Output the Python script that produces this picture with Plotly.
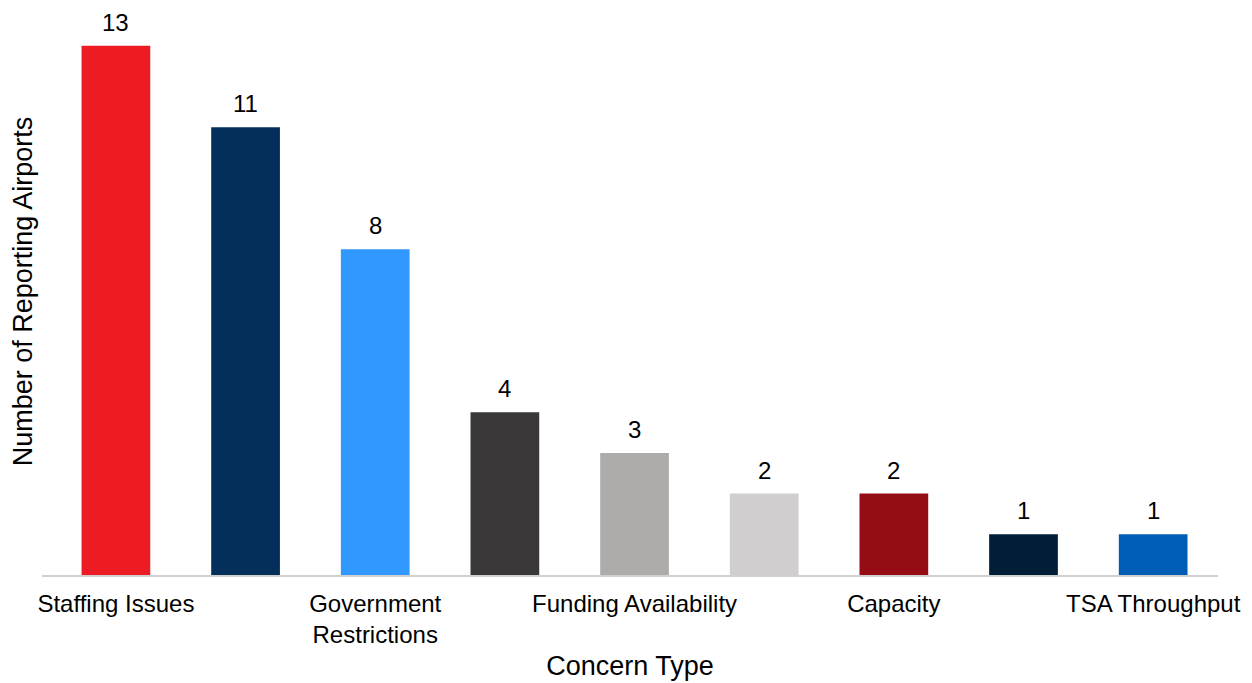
import plotly.graph_objects as go

categories = ["Staffing Issues", "Passenger Volume", "Government Restrictions",
              "Health Screening", "Funding Availability", "Cleaning Requirements",
              "Capacity", "Social Distancing", "TSA Throughput"]
values = [13, 11, 8, 4, 3, 2, 2, 1, 1]
colors = ["#ED1C24", "#032F5A", "#3098FE", "#3A3839", "#AEACAA",
          "#D0CECE", "#950C14", "#011E39", "#005DB6"]
shown_ticks = ["Staffing Issues", "Government Restrictions", "Funding Availability",
               "Capacity", "TSA Throughput"]
shown_text = ["Staffing Issues", "Government<br>Restrictions", "Funding Availability",
              "Capacity", "TSA Throughput"]

FONT = "Liberation Sans, Arial, sans-serif"

fig = go.Figure()
fig.add_trace(go.Bar(
    x=categories, y=values, marker=dict(color=colors, line=dict(width=0)),
    width=0.53, hoverinfo="x+y",
))
for c, v in zip(categories, values):
    fig.add_annotation(x=c, y=v, text=str(v), showarrow=False, yanchor="bottom",
                       yshift=9, borderpad=0,
                       font=dict(family=FONT, size=24, color="#000000"))

fig.update_layout(
    width=1244, height=675,
    margin=dict(l=34, r=34, t=0, b=108),
    plot_bgcolor="white", paper_bgcolor="white",
    showlegend=False,
    font=dict(family=FONT, size=24, color="#000000"),
    xaxis=dict(
        type="category", range=[-0.57, 8.5],
        tickmode="array", tickvals=shown_ticks, ticktext=shown_text,
        showline=True, linecolor="#D0D0D0", linewidth=2,
        showgrid=False, ticks="", ticklabelstandoff=6,
        tickfont=dict(family=FONT, size=24, color="#000000"),
        title=dict(text="Concern Type", standoff=9,
                   font=dict(family=FONT, size=27, color="#000000")),
        automargin=False,
    ),
    yaxis=dict(
        range=[0, 13.93], showticklabels=False, showgrid=False, zeroline=False,
        showline=False, ticks="",
        title=dict(text="Number of Reporting Airports", standoff=5,
                   font=dict(family=FONT, size=27, color="#000000")),
        automargin=False,
    ),
)

fig.write_html("out.html")
